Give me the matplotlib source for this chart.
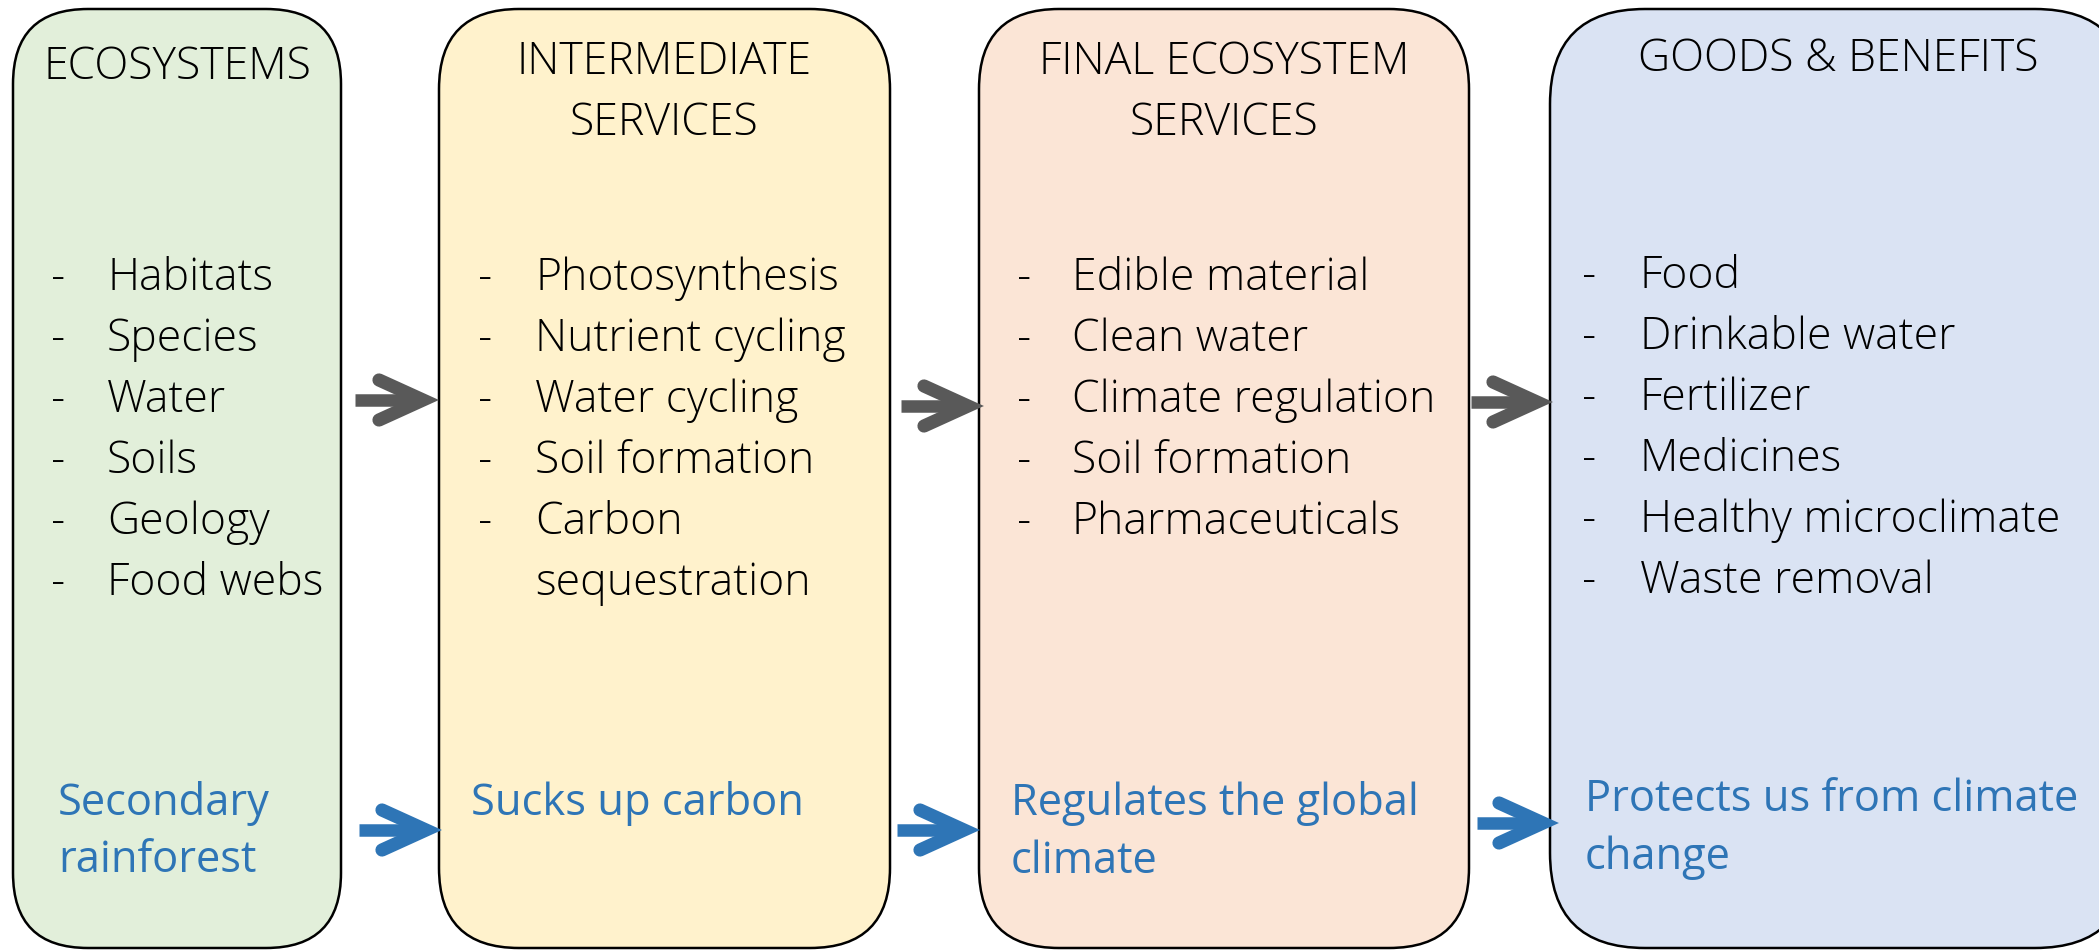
import matplotlib.pyplot as plt
from matplotlib.patches import FancyBboxPatch

# box contents
titles = [["ECOSYSTEMS"], ["INTERMEDIATE", "SERVICES"],
          ["FINAL ECOSYSTEM", "SERVICES"], ["GOODS & BENEFITS"]]
items = [
    ["Habitats", "Species", "Water", "Soils", "Geology", "Food webs"],
    ["Photosynthesis", "Nutrient cycling", "Water cycling", "Soil formation",
     "Carbon", "sequestration"],
    ["Edible material", "Clean water", "Climate regulation", "Soil formation",
     "Pharmaceuticals"],
    ["Food", "Drinkable water", "Fertilizer", "Medicines",
     "Healthy microclimate", "Waste removal"],
]
dashed = [[1] * 6, [1, 1, 1, 1, 1, 0], [1] * 5, [1] * 6]
examples = [["Secondary", "rainforest"], ["Sucks up carbon"],
            ["Regulates the global", "climate"], ["Protects us from climate", "change"]]
fills = ["#E2EFDA", "#FFF2CC", "#FBE5D6", "#DAE3F3"]

# layout (pixel space)
box_x = [13, 439, 979, 1550]
box_w = [328, 451, 490, 580]
box_r = [75, 80, 80, 95]
title_y = [[68], [63, 124], [63, 124], [60]]
item_y0 = [279, 279, 279, 277]
item_dy = [61, 61, 61, 61]
dash_x = [51, 478, 1017, 1582]
text_x = [107, 535, 1072, 1640]
ex_x = [58, 471, 1011, 1585]
ex_y0 = [803, 803, 804, 800]
gray_arrows = [(355, 439, 400), (901, 984, 406), (1471, 1553, 402)]
blue_arrows = [(359, 442, 830), (897, 980, 830), (1477, 1559, 823)]

FONT = "Open Sans"
fig = plt.figure(figsize=(20.99, 9.52), dpi=100)
ax = fig.add_axes([0, 0, 1, 1])
ax.set_xlim(0, 2099)
ax.set_ylim(952, 0)
ax.axis("off")

for i in range(4):
    box = FancyBboxPatch((box_x[i], 9), box_w[i], 939,
                         boxstyle=f"round,pad=0,rounding_size={box_r[i]}",
                         fc=fills[i], ec="black", lw=1.8)
    ax.add_patch(box)
    cx = box_x[i] + box_w[i] / 2 if i < 3 else 1838
    for t, y in zip(titles[i], title_y[i]):
        ax.text(cx, y, t, ha="center", va="center", fontsize=32,
                family=FONT, fontweight="light", color="black")
    for j, it in enumerate(items[i]):
        y = item_y0[i] + j * item_dy[i]
        if dashed[i][j]:
            ax.text(dash_x[i], y, "-", ha="left", va="center", fontsize=32,
                    family=FONT, fontweight="light")
        ax.text(text_x[i], y, it, ha="left", va="center", fontsize=32,
                family=FONT, fontweight="light")
    for j, t in enumerate(examples[i]):
        ax.text(ex_x[i], ex_y0[i] + j * 58, t, ha="left", va="center",
                fontsize=31.3, family=FONT, color="#2E75B6")


def arrow(x0, x1, y, color):
    ax.plot([x0, x1 - 20], [y, y], color=color, lw=9, solid_capstyle="butt")
    ax.plot([x1 - 60, x1 - 16, x1 - 60], [y - 20, y, y + 20], color=color, lw=9.5,
            solid_capstyle="round", solid_joinstyle="miter")


for x0, x1, y in gray_arrows:
    arrow(x0, x1, y, "#595959")
for x0, x1, y in blue_arrows:
    arrow(x0, x1, y, "#2E75B6")

fig.savefig("out.png", dpi=100)
